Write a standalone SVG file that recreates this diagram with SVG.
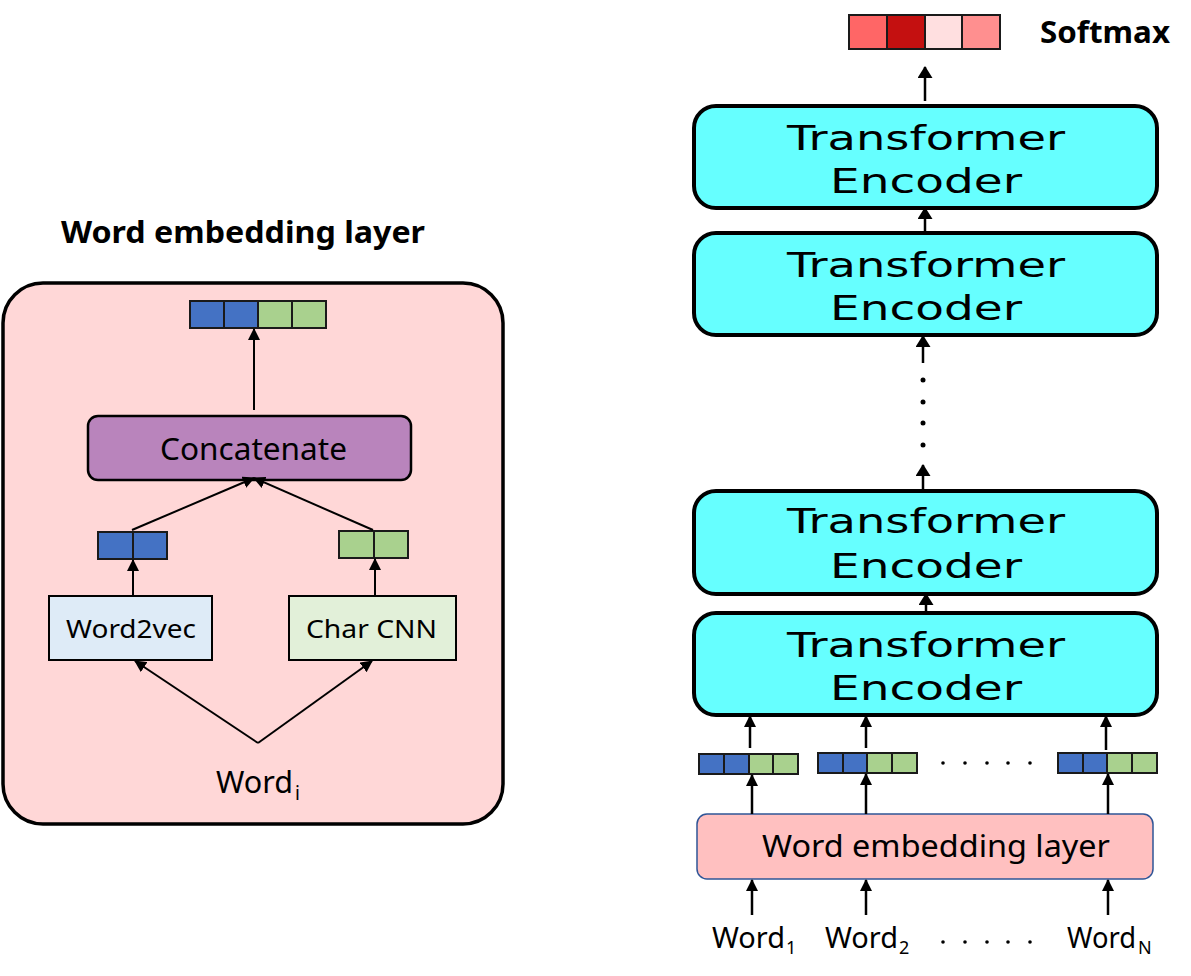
<svg xmlns="http://www.w3.org/2000/svg" width="1191" height="976" viewBox="0 0 1191 976">
<style>
.t{font-family:"Noto Sans","DejaVu Sans",sans-serif;fill:#000}
.b{font-family:"Noto Sans","DejaVu Sans",sans-serif;font-weight:bold;fill:#000}
.enc{font-family:"DejaVu Sans","Noto Sans",sans-serif;font-size:34px;fill:#000}
.encbox{fill:#66FFFF;stroke:#000;stroke-width:4}
.blue{fill:#4472C4;stroke:#1a1a1a;stroke-width:2}
.green{fill:#A9D18E;stroke:#1a1a1a;stroke-width:2}
.ln{stroke:#000;stroke-width:2;fill:none}
.lnb{stroke:#000;stroke-width:2.5;fill:none}
</style>
<defs>
<marker id="ah" markerUnits="userSpaceOnUse" markerWidth="12" markerHeight="12" refX="11" refY="6" orient="auto">
<path d="M0,0 L12,6 L0,12 z" fill="#000"/>
</marker>
<marker id="ahb" markerUnits="userSpaceOnUse" markerWidth="12" markerHeight="16" refX="11" refY="7.5" orient="auto">
<path d="M0,0 L12,7.5 L0,15 z" fill="#000"/>
</marker>
</defs>
<rect width="1191" height="976" fill="#fff"/>

<!-- Left panel -->
<g id="left-panel">
<rect x="3" y="283" width="500" height="541" rx="40" fill="#FFD7D7" stroke="#000" stroke-width="3.5"/>
</g>
<g id="title-left">
<text class="b" x="243" y="243" font-size="30" text-anchor="middle" textLength="364" lengthAdjust="spacingAndGlyphs">Word embedding layer</text>
</g>
<g id="concat-vector">
<rect class="blue" x="190" y="301" width="34" height="27"/>
<rect class="blue" x="224" y="301" width="34" height="27"/>
<rect class="green" x="258" y="301" width="34" height="27"/>
<rect class="green" x="292" y="301" width="34" height="27"/>
</g>
<g id="concatenate">
<rect x="88" y="416" width="323" height="64" rx="10" fill="#B984BC" stroke="#000" stroke-width="2.5"/>
<text class="t" x="160" y="460" font-size="30" textLength="187" lengthAdjust="spacingAndGlyphs">Concatenate</text>
</g>
<g id="w2v-vector">
<rect class="blue" x="98" y="532" width="35" height="27"/>
<rect class="blue" x="133" y="532" width="34" height="27"/>
</g>
<g id="cnn-vector">
<rect class="green" x="339" y="531" width="35" height="27"/>
<rect class="green" x="374" y="531" width="34" height="27"/>
</g>
<g id="word2vec">
<rect x="49" y="596" width="163" height="64" fill="#DEEBF7" stroke="#000" stroke-width="2"/>
<text class="t" x="66" y="638" font-size="26" textLength="130" lengthAdjust="spacingAndGlyphs">Word2vec</text>
</g>
<g id="charcnn">
<rect x="289" y="596" width="167" height="64" fill="#E2F0D9" stroke="#000" stroke-width="2"/>
<text class="t" x="306" y="638" font-size="26" textLength="131" lengthAdjust="spacingAndGlyphs">Char CNN</text>
</g>
<g id="word-i">
<text class="t" x="216" y="793" font-size="31" textLength="77" lengthAdjust="spacingAndGlyphs">Word</text>
<text class="t" x="295" y="800" font-size="19">i</text>
</g>

<!-- Right panel -->
<g id="softmax">
<rect x="849" y="15" width="38" height="34" fill="#FF6666" stroke="#1a1a1a" stroke-width="2"/>
<rect x="887" y="15" width="38" height="34" fill="#C41010" stroke="#1a1a1a" stroke-width="2"/>
<rect x="925" y="15" width="37" height="34" fill="#FFDFE0" stroke="#1a1a1a" stroke-width="2"/>
<rect x="962" y="15" width="38" height="34" fill="#FF8F8F" stroke="#1a1a1a" stroke-width="2"/>
<text class="b" x="1040" y="43" font-size="30" textLength="130" lengthAdjust="spacingAndGlyphs">Softmax</text>
</g>
<g id="encoder-4">
<rect class="encbox" x="694" y="106" width="463" height="102" rx="22"/>
<text class="enc" x="787" y="150" textLength="278" lengthAdjust="spacingAndGlyphs">Transformer</text>
<text class="enc" x="830" y="193" textLength="192" lengthAdjust="spacingAndGlyphs">Encoder</text>
</g>
<g id="encoder-3">
<rect class="encbox" x="694" y="233" width="463" height="102" rx="22"/>
<text class="enc" x="787" y="277" textLength="278" lengthAdjust="spacingAndGlyphs">Transformer</text>
<text class="enc" x="830" y="320" textLength="192" lengthAdjust="spacingAndGlyphs">Encoder</text>
</g>
<g id="encoder-2">
<rect class="encbox" x="694" y="491" width="463" height="103" rx="22"/>
<text class="enc" x="787" y="533" textLength="278" lengthAdjust="spacingAndGlyphs">Transformer</text>
<text class="enc" x="830" y="578" textLength="192" lengthAdjust="spacingAndGlyphs">Encoder</text>
</g>
<g id="encoder-1">
<rect class="encbox" x="694" y="613" width="463" height="102" rx="22"/>
<text class="enc" x="787" y="657" textLength="278" lengthAdjust="spacingAndGlyphs">Transformer</text>
<text class="enc" x="830" y="700" textLength="192" lengthAdjust="spacingAndGlyphs">Encoder</text>
</g>
<g id="vec-1">
<rect class="blue" x="699" y="754" width="25" height="20"/>
<rect class="blue" x="724" y="754" width="25" height="20"/>
<rect class="green" x="749" y="754" width="24" height="20"/>
<rect class="green" x="773" y="754" width="25" height="20"/>
</g>
<g id="vec-2">
<rect class="blue" x="818" y="753" width="25" height="20"/>
<rect class="blue" x="843" y="753" width="24" height="20"/>
<rect class="green" x="867" y="753" width="25" height="20"/>
<rect class="green" x="892" y="753" width="25" height="20"/>
</g>
<g id="vec-n">
<rect class="blue" x="1058" y="753" width="25" height="20"/>
<rect class="blue" x="1083" y="753" width="24" height="20"/>
<rect class="green" x="1107" y="753" width="25" height="20"/>
<rect class="green" x="1132" y="753" width="25" height="20"/>
</g>
<g id="embedding-layer">
<rect x="697" y="814" width="456" height="65" rx="10" fill="#FFC0C0" stroke="#2F5597" stroke-width="1.5"/>
<text class="t" x="762" y="857" font-size="30" textLength="348" lengthAdjust="spacingAndGlyphs">Word embedding layer</text>
</g>
<g id="words">
<text class="t" x="712" y="948" font-size="29" textLength="73" lengthAdjust="spacingAndGlyphs">Word</text>
<text class="t" x="786" y="954" font-size="18">1</text>
<text class="t" x="825" y="948" font-size="29" textLength="73" lengthAdjust="spacingAndGlyphs">Word</text>
<text class="t" x="899" y="954" font-size="18">2</text>
<text class="t" x="1067" y="948" font-size="29" textLength="69" lengthAdjust="spacingAndGlyphs">Word</text>
<text class="t" x="1138" y="954" font-size="18">N</text>
</g>
<g id="dots" fill="#000">
<circle cx="923" cy="380" r="2.5"/><circle cx="923" cy="402" r="2.5"/><circle cx="923" cy="423" r="2.5"/><circle cx="923" cy="445" r="2.5"/>
<circle cx="943" cy="763" r="1.8"/><circle cx="965" cy="763" r="1.8"/><circle cx="987" cy="763" r="1.8"/><circle cx="1008" cy="763" r="1.8"/><circle cx="1030" cy="763" r="1.8"/>
<circle cx="943" cy="942" r="1.8"/><circle cx="965" cy="942" r="1.8"/><circle cx="987" cy="942" r="1.8"/><circle cx="1008" cy="942" r="1.8"/><circle cx="1030" cy="942" r="1.8"/>
</g>

<g id="connectors">
<!-- left -->
<line class="ln" x1="254" y1="410" x2="254" y2="329" marker-end="url(#ah)"/>
<line class="ln" x1="132" y1="530" x2="254" y2="478" marker-end="url(#ah)"/>
<line class="ln" x1="373" y1="530" x2="254" y2="478" marker-end="url(#ah)"/>
<line class="ln" x1="133" y1="596" x2="133" y2="560" marker-end="url(#ah)"/>
<line class="ln" x1="375" y1="596" x2="375" y2="559" marker-end="url(#ah)"/>
<line class="ln" x1="258" y1="743" x2="135" y2="661" marker-end="url(#ah)"/>
<line class="ln" x1="258" y1="743" x2="372" y2="661" marker-end="url(#ah)"/>
<!-- right -->
<line class="lnb" x1="925" y1="101" x2="925" y2="67" marker-end="url(#ahb)"/>
<line class="lnb" x1="925" y1="233" x2="925" y2="208" marker-end="url(#ahb)"/>
<line class="lnb" x1="923" y1="363" x2="923" y2="336" marker-end="url(#ahb)"/>
<line class="lnb" x1="923" y1="490" x2="923" y2="465" marker-end="url(#ahb)"/>
<line class="lnb" x1="926" y1="613" x2="926" y2="594" marker-end="url(#ahb)"/>
<line class="lnb" x1="750" y1="748" x2="750" y2="716" marker-end="url(#ah)"/>
<line class="lnb" x1="866" y1="748" x2="866" y2="716" marker-end="url(#ah)"/>
<line class="lnb" x1="1106" y1="750" x2="1106" y2="716" marker-end="url(#ah)"/>
<line class="lnb" x1="752" y1="814" x2="752" y2="775" marker-end="url(#ah)"/>
<line class="lnb" x1="866" y1="814" x2="866" y2="774" marker-end="url(#ah)"/>
<line class="lnb" x1="1108" y1="814" x2="1108" y2="774" marker-end="url(#ah)"/>
<line class="lnb" x1="752" y1="915" x2="752" y2="880" marker-end="url(#ah)"/>
<line class="lnb" x1="866" y1="915" x2="866" y2="880" marker-end="url(#ah)"/>
<line class="lnb" x1="1108" y1="915" x2="1108" y2="880" marker-end="url(#ah)"/>
</g>
</svg>
